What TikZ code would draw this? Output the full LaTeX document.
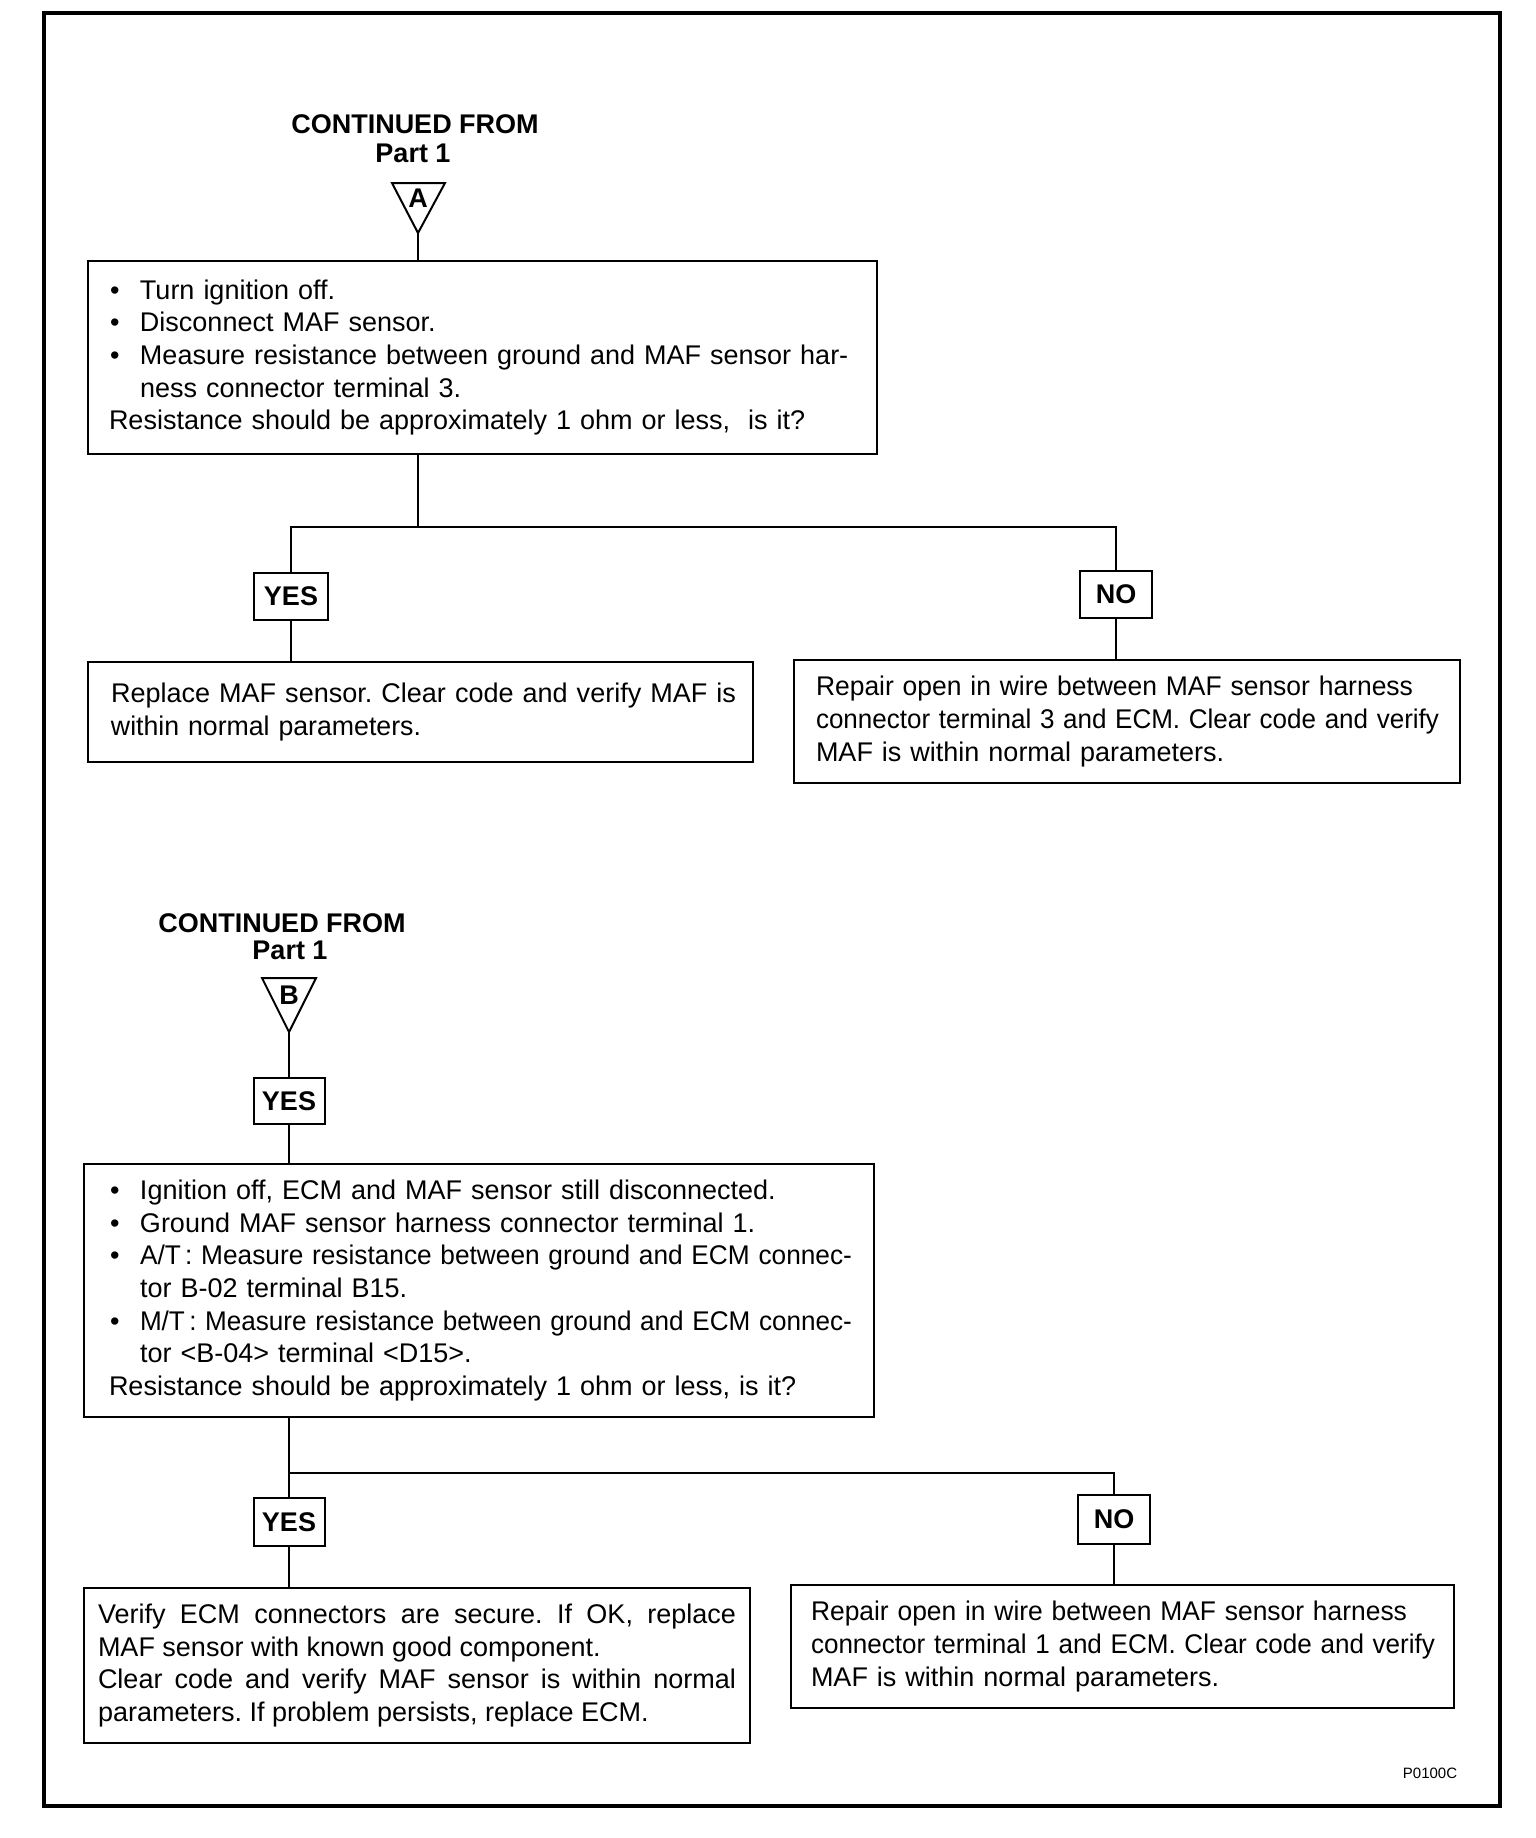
\documentclass[tikz,border=0pt]{standalone}
\usepackage{fontspec}
\usepackage{graphicx}
\setmainfont{Liberation Sans}
\frenchspacing
\newcommand\bodyfont{\fontsize{13.5}{16.3}\selectfont}
\newcommand\headfont{\fontsize{13.5}{14}\selectfont\bfseries}
\newcommand\bul{\hspace*{0.5pt}\makebox[15pt][l]{•}}
\newcommand\ind{\hspace*{15.5pt}}
\newcommand\fitto[2]{\resizebox{#1}{\height}{#2}}
\tikzset{
  px/.style={x=0.5pt,y=-0.5pt},
  stepbox/.style={draw, line width=1pt, inner ysep=0pt, align=left, font=\bodyfont, anchor=north west},
  answer/.style={draw, line width=1pt, inner sep=0pt, font=\headfont},
  heading/.style={font=\headfont, inner sep=0pt, align=center},
  conn/.style={line width=1pt},
  frame/.style={line width=2pt},
}
\begin{document}
\begin{tikzpicture}[px]
\useasboundingbox (0,0) rectangle (1536,1838);
\draw[frame] (44,13) rectangle (1500,1806);

% ---------- Part A ----------
\node[heading] (headA) at (415,124) {CONTINUED FROM};
\node[heading] (partA) at (413,153) {Part 1};
\draw[conn] (392,183) -- (445,183) -- (418,233) -- cycle;
\coordinate (triA) at (418,233);
\node[heading] (letA) at (418,198) {A};

\node[stepbox, minimum width=394.5pt, minimum height=96.5pt, inner xsep=10.5pt, text width=373.5pt] (box1) at (87,260) {%
\bul Turn ignition off.\\
\bul Disconnect MAF sensor.\\
\bul Measure resistance between ground and MAF sensor har-\\
\ind ness connector terminal 3.\\
Resistance should be approximately 1 ohm or less,\ \ is it?};

\node[answer, minimum width=37pt, minimum height=23.5pt] (yesA) at (291,596.5) {YES};
\node[answer, minimum width=36pt, minimum height=23.5pt] (noA) at (1116,594.5) {NO};

\node[stepbox, minimum width=332.5pt, minimum height=50pt, inner xsep=11.5pt, text width=309.5pt] (box2) at (87,661) {%
\fitto{312.5pt}{Replace MAF sensor. Clear code and verify MAF is}\\
\fitto{155pt}{within normal parameters.}};

\node[stepbox, minimum width=333pt, minimum height=61.5pt, inner xsep=11pt, text width=311pt] (box3) at (793,659) {%
\fitto{298.5pt}{Repair open in wire between MAF sensor harness}\\
\fitto{311.5pt}{connector terminal 3 and ECM. Clear code and verify}\\
MAF is within normal parameters.};

\coordinate (jA) at (418,527);
\draw[conn] (triA) -- (triA |- box1.north);
\draw[conn] (box1.south -| jA) -- (jA);
\draw[conn] (yesA.north) -- (yesA.north |- jA) -- (noA.north |- jA) -- (noA.north);
\draw[conn] (yesA.south) -- (yesA.south |- box2.north);
\draw[conn] (noA.south) -- (noA.south |- box3.north);

% ---------- Part B ----------
\node[heading] (headB) at (282,923) {CONTINUED FROM};
\node[heading] (partB) at (290,950) {Part 1};
\draw[conn] (262,978) -- (316,978) -- (289,1032) -- cycle;
\coordinate (triB) at (289,1032);
\node[heading] (letB) at (289,995) {B};

\node[answer, minimum width=35.5pt, minimum height=23pt] (yesB1) at (289,1101) {YES};

\node[stepbox, minimum width=395pt, minimum height=126.5pt, inner xsep=12.5pt, text width=370pt] (box4) at (83,1163) {%
\bul Ignition off, ECM and MAF sensor still disconnected.\\
\bul Ground MAF sensor harness connector terminal 1.\\
\bul \fitto{356pt}{A/T\,: Measure resistance between ground and ECM connec-}\\
\ind tor B-02 terminal B15.\\
\bul \fitto{356pt}{M/T\,: Measure resistance between ground and ECM connec-}\\
\ind tor <B-04> terminal <D15>.\\
Resistance should be approximately 1 ohm or less, is it?};

\node[answer, minimum width=35.5pt, minimum height=24pt] (yesB2) at (289,1522) {YES};
\node[answer, minimum width=36pt, minimum height=24.5pt] (noB) at (1114,1519.5) {NO};

\node[stepbox, align=justify, minimum width=333pt, minimum height=77.5pt, inner xsep=7pt, text width=319pt] (box5) at (83,1587) {%
Verify ECM connectors are secure. If OK, replace\linebreak
MAF sensor with known good component.\\
Clear code and verify MAF sensor is within normal\linebreak
parameters. If problem persists, replace ECM.};

\node[stepbox, minimum width=331.5pt, minimum height=61.5pt, inner xsep=10pt, text width=311.5pt] (box6) at (790,1584) {%
\fitto{298pt}{Repair open in wire between MAF sensor harness}\\
\fitto{312pt}{connector terminal 1 and ECM. Clear code and verify}\\
MAF is within normal parameters.};

\coordinate (jB) at (289,1473);
\draw[conn] (triB) -- (yesB1.north);
\draw[conn] (yesB1.south) -- (yesB1.south |- box4.north);
\draw[conn] (box4.south -| yesB2.north) -- (yesB2.north);
\draw[conn] (jB) -- (noB.north |- jB) -- (noB.north);
\draw[conn] (yesB2.south) -- (yesB2.south |- box5.north);
\draw[conn] (noB.south) -- (noB.south |- box6.north);

\node[font=\fontsize{7.5}{8}\selectfont, inner sep=0pt] (code) at (1430,1773) {P0100C};
\end{tikzpicture}
\end{document}
